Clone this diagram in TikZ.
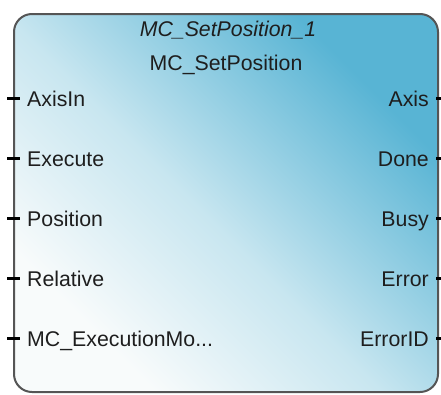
\documentclass[tikz,border=0pt]{standalone}
\usepackage{fontspec}
\setmainfont{Liberation Sans}
\definecolor{fbdark}{RGB}{88,180,212}
\definecolor{fbmid}{RGB}{200,230,240}
\definecolor{fblight}{RGB}{248,251,251}
\definecolor{fbborder}{RGB}{85,85,85}
\definecolor{fbtext}{RGB}{30,30,30}
\newcommand{\fbdots}{.{}.{}.}
\pgfdeclarehorizontalshading{fbshade}{100bp}{
  color(0bp)=(fblight); color(27bp)=(fblight); color(47bp)=(fbmid);
  color(73bp)=(fbdark); color(100bp)=(fbdark)}
\tikzset{
  lbl/.style={font=\fontsize{21.3}{24}\selectfont, text=fbtext, inner sep=0pt},
  inlbl/.style={lbl, anchor=base west},
  outlbl/.style={lbl, anchor=base east},
  pinstub/.style={line width=3pt, black},
}
\begin{document}
\begin{tikzpicture}[x=1pt,y=-1pt]
\useasboundingbox (0,0) rectangle (441,394);
\fill[white] (0,0) rectangle (441,394);
\path[shading=fbshade, shading angle=45]
  [rounded corners=18pt] (14,14) rectangle (438,392);
\draw[fbborder, line width=2pt, rounded corners=18pt] (14,14) rectangle (438,392);
\node[lbl, anchor=base, font=\fontsize{21.3}{24}\selectfont\itshape] (inst) at (228,36) {MC\_SetPosition\_1};
\node[lbl, anchor=base] (type) at (226,70) {MC\_SetPosition};
\foreach \n/\t [count=\i from 0] in {axisin/AxisIn, execute/Execute, position/Position, relative/Relative, mode/{MC\_ExecutionMo\fbdots}}{
  \node[inlbl] (\n) at (27,106+60*\i) {\t};
  \coordinate (\n-a) at (7,98+60*\i);
  \coordinate (\n-b) at (20,98+60*\i);
  \draw[pinstub] (\n-a) -- (\n-b);
}
\foreach \n/\t [count=\i from 0] in {axis/Axis, done/Done, busy/Busy, error/Error, errorid/ErrorID}{
  \node[outlbl] (\n) at (429,106+60*\i) {\t};
  \coordinate (\n-a) at (436,98+60*\i);
  \coordinate (\n-b) at (441,98+60*\i);
  \draw[pinstub] (\n-a) -- (\n-b);
}
\end{tikzpicture}
\end{document}
